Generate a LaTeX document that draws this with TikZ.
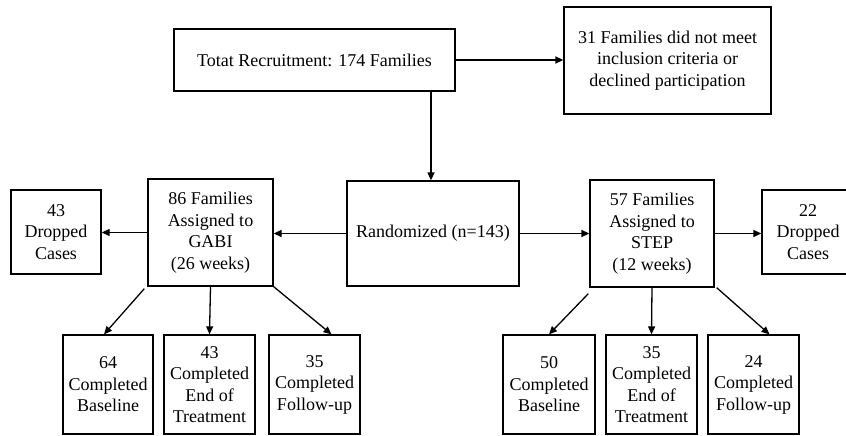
\documentclass[tikz,border=0pt]{standalone}
\usepackage{fontspec}
\setmainfont{Liberation Serif}
\usetikzlibrary{arrows.meta}
\begin{document}
\begin{tikzpicture}[x=1pt,y=-1pt,
  box/.style={draw,line width=1.3pt,rectangle,inner sep=0pt,align=center,
    font=\fontsize{18}{21.5}\selectfont},
  arr/.style={line width=1.3pt,-{Triangle[length=8pt,width=7pt]}}]
\useasboundingbox (0,0) rectangle (846,436);
\node[box,minimum width=281,minimum height=62] (top) at (314.5,60) {Totat Recruitment: 174 Families};
\node[box,minimum width=207,minimum height=107] (excl) at (667.5,60.5) {31 Families did not meet\\inclusion criteria or\\declined participation};
\node[box,minimum width=172,minimum height=105] (rand) at (433,233.5) {Randomized (n=143)};
\node[box,minimum width=125,minimum height=107] (gabi) at (210.5,232.5) {86 Families\\Assigned to\\GABI\\(26 weeks)};
\node[box,minimum width=90,minimum height=84] (dropL) at (56,232) {43\\Dropped\\Cases};
\node[box,minimum width=124,minimum height=107] (step) at (652,233.5) {57 Families\\Assigned to\\STEP\\(12 weeks)};
\node[box,minimum width=92,minimum height=84] (dropR) at (808,232) {22\\Dropped\\Cases};
\node[box,minimum width=90,minimum height=99] (g1) at (108,384.5) {64\\Completed\\Baseline};
\node[box,minimum width=91,minimum height=99] (g2) at (209.5,384.5) {43\\Completed\\End of\\Treatment};
\node[box,minimum width=91,minimum height=99] (g3) at (314.5,384.5) {35\\Completed\\Follow-up};
\node[box,minimum width=92,minimum height=99] (s1) at (549,384.5) {50\\Completed\\Baseline};
\node[box,minimum width=91,minimum height=99] (s2) at (651.5,384.5) {35\\Completed\\End of\\Treatment};
\node[box,minimum width=91,minimum height=99] (s3) at (753.5,384.5) {24\\Completed\\Follow-up};
\coordinate (tdown) at ([xshift=-2]rand.north);
\draw[arr] (top.east) -- (excl.west |- top.east);
\draw[arr] (top.south -| tdown) -- (tdown);
\draw[arr] (rand.west) -- (gabi.east |- rand.west);
\draw[arr] (gabi.west) -- (dropL.east |- gabi.west);
\draw[arr] (rand.east) -- (step.west |- rand.east);
\draw[arr] (step.east) -- (dropR.west |- step.east);
\draw[arr] ([shift={(-3,2)}]gabi.south west) -- ([xshift=-4]g1.north);
\draw[arr] (gabi.south) -- (g2.north);
\draw[arr] (gabi.south east) -- ([xshift=17]g3.north);
\draw[arr] ([shift={(-1,6)}]step.south west) -- (s1.north);
\draw[arr] (step.south) -- (s2.north);
\draw[arr] ([xshift=2]step.south east) -- ([xshift=16]s3.north);
\end{tikzpicture}
\end{document}
